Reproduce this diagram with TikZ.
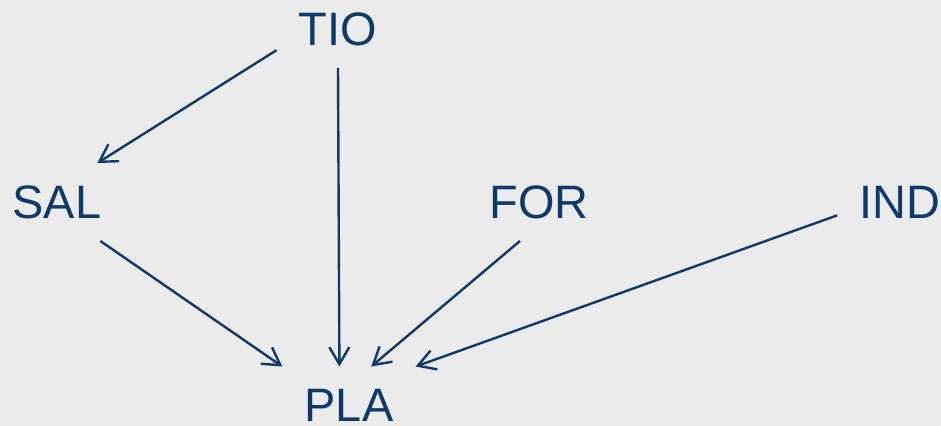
\documentclass[tikz,border=0pt]{standalone}
\usepackage{fontspec}
\setmainfont{Liberation Sans}
\usepackage{tikz}
\usetikzlibrary{arrows.meta}

\definecolor{dagblue}{HTML}{0D396B}
\definecolor{dagbg}{HTML}{EBEBEB}
\tikzset{
	varnode/.style={text=dagblue, inner sep=0.44cm, font=\fontsize{26.7}{30}\selectfont},
	dagarrow/.style={draw=dagblue, line width=0.048cm, -{Straight Barb[length=0.34cm,width=0.4cm]}}
}

\begin{document}
\begin{tikzpicture}[x=0.02cm,y=-0.02cm]
		\fill[dagbg] (0,0) rectangle (941,426);
		\useasboundingbox (0,0) rectangle (941,426);
		
		\node[varnode] (TIO) at (338,29) {TIO};
		\node[varnode] (SAL) at (57,202) {SAL};
		\node[varnode] (FOR) at (539,202) {FOR};
		\node[varnode] (IND) at (900,202) {IND};
		\node[varnode] (PLA) at (349,405) {PLA};
		
		%	\draw[dagarrow] (TIO) -- (SAL);
		\draw[dagarrow] (TIO.199) -- (SAL.44);
		\draw[dagarrow] (TIO.south) -- (PLA.104);
		\draw[dagarrow] (SAL.318) -- (PLA.north west);
		\draw[dagarrow] (FOR.244) -- (PLA.60);
		\draw[dagarrow] (IND.192) -- (PLA.north east);
		
\end{tikzpicture}
\end{document}
